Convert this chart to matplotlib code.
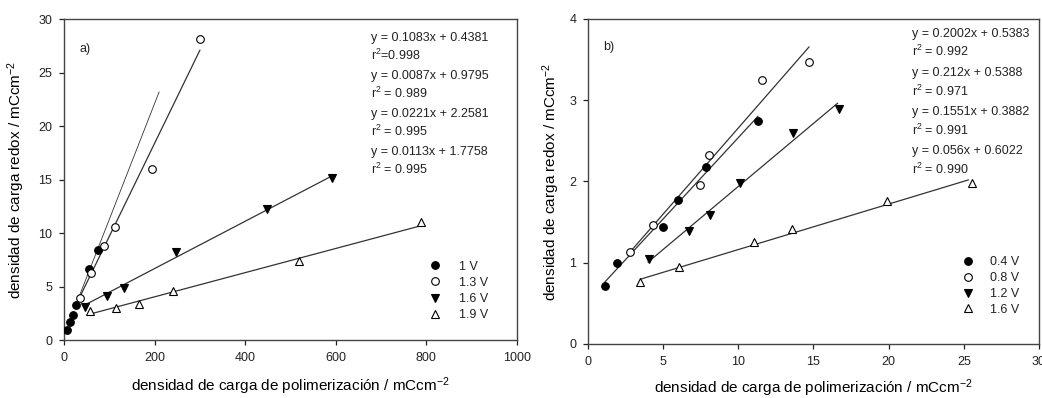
import matplotlib
matplotlib.use("Agg")
import matplotlib.pyplot as plt
import numpy as np

plt.rcParams["font.family"] = ["Liberation Sans", "DejaVu Sans"]
plt.rcParams["mathtext.fontset"] = "custom"
plt.rcParams["mathtext.rm"] = "Liberation Sans"
plt.rcParams["mathtext.it"] = "Liberation Sans:italic"
plt.rcParams["text.color"] = "#222222"

# Panel a: electropolymerised at 1 V .. 1.9 V
a_labels = ["1 V", "1.3 V", "1.6 V", "1.9 V"]
a_x = [
    [6, 13, 19, 26.5, 56, 76],
    [35, 59, 88, 113, 194, 300],
    [47, 96, 133, 247, 448, 592],
    [57.5, 115, 166, 240, 518, 788],
]
a_y = [
    [0.9, 1.65, 2.35, 3.3, 6.6, 8.4],
    [3.9, 6.25, 8.75, 10.6, 16.0, 28.1],
    [3.1, 4.15, 4.85, 8.2, 12.25, 15.1],
    [2.7, 3.0, 3.4, 4.6, 7.4, 11.0],
]
a_slope = [0.1083, 0.087, 0.0221, 0.0113]
a_icpt = [0.4381, 0.9795, 2.2581, 1.7758]
a_range = [(30, 210), (35, 300), (45, 592), (60, 790)]
a_text = [
    "y = 0.1083x + 0.4381", "r$^2$=0.998",
    "y = 0.0087x + 0.9795", "r$^2$ = 0.989",
    "y = 0.0221x + 2.2581", "r$^2$ = 0.995",
    "y = 0.0113x + 1.7758", "r$^2$ = 0.995",
]

# Panel b: 0.4 V .. 1.6 V
b_labels = ["0.4 V", "0.8 V", "1.2 V", "1.6 V"]
b_x = [
    [1.16, 1.96, 4.96, 5.96, 7.85, 11.29],
    [2.78, 4.33, 7.45, 8.07, 11.56, 14.7],
    [4.05, 6.73, 8.11, 10.11, 13.67, 16.67],
    [3.49, 6.07, 11.07, 13.6, 19.9, 25.56],
]
b_y = [
    [0.71, 1.0, 1.44, 1.77, 2.18, 2.75],
    [1.135, 1.46, 1.96, 2.32, 3.25, 3.47],
    [1.04, 1.39, 1.59, 1.98, 2.6, 2.89],
    [0.76, 0.95, 1.26, 1.41, 1.76, 1.98],
]
b_slope = [0.2002, 0.212, 0.1551, 0.056]
b_icpt = [0.5383, 0.5388, 0.3882, 0.6022]
b_range = [(1.1, 11.3), (2.7, 14.7), (4.0, 16.6), (3.5, 25.3)]
b_text = [
    "y = 0.2002x + 0.5383", "r$^2$ = 0.992",
    "y = 0.212x + 0.5388", "r$^2$ = 0.971",
    "y = 0.1551x + 0.3882", "r$^2$ = 0.991",
    "y = 0.056x + 0.6022", "r$^2$ = 0.990",
]

markers = [
    dict(marker="o", mfc="black", mec="black"),
    dict(marker="o", mfc="white", mec="black"),
    dict(marker="v", mfc="black", mec="black"),
    dict(marker="^", mfc="white", mec="black"),
]

fig = plt.figure(figsize=(10.42, 3.98), dpi=100)
ax_a = fig.add_axes([0.0614, 0.1457, 0.4347, 0.8065])
ax_b = fig.add_axes([0.5643, 0.1357, 0.4328, 0.8166])


def draw_panel(ax, xs, ys, slopes, icpts, ranges, labels, line_w):
    for i in range(len(xs)):
        x0, x1 = ranges[i]
        lx = np.array([x0, x1])
        ax.plot(lx, slopes[i] * lx + icpts[i], color="#333333", lw=line_w[i],
                zorder=2)
        ax.plot(xs[i], ys[i], ls="none", ms=5.5, mew=0.8, label=labels[i],
                zorder=3, **markers[i])
    for s in ax.spines.values():
        s.set_color("#444444")
        s.set_linewidth(1.0)
    ax.tick_params(direction="out", length=3.5, width=0.9, pad=5,
                   labelsize=9, colors="#222222")


draw_panel(ax_a, a_x, a_y, a_slope, a_icpt, a_range, a_labels,
           [0.6, 0.9, 0.9, 0.9])
draw_panel(ax_b, b_x, b_y, b_slope, b_icpt, b_range, b_labels,
           [0.9, 0.9, 0.9, 0.9])

ax_a.set_xlim(0, 1000)
ax_a.set_ylim(0, 30)
ax_a.set_xticks(np.arange(0, 1001, 200))
ax_a.set_yticks(np.arange(0, 31, 5))
ax_b.set_xlim(0, 30)
ax_b.set_ylim(0, 4)
ax_b.set_xticks(np.arange(0, 31, 5))
ax_b.set_yticks(np.arange(0, 5, 1))

xlab = "densidad de carga de polimerización / mCcm$^{-2}$"
ylab = "densidad de carga redox / mCcm$^{-2}$"
for ax, xly, ylx in [(ax_a, -0.110, -0.082), (ax_b, -0.104, -0.058)]:
    ax.set_xlabel(xlab, fontsize=11)
    ax.set_ylabel(ylab, fontsize=11)
    ax.xaxis.set_label_coords(0.5, xly)
    ax.yaxis.set_label_coords(ylx, 0.5)

ax_a.text(0.035, 0.908, "a)", transform=ax_a.transAxes, fontsize=9,
          va="center")
ax_b.text(0.034, 0.915, "b)", transform=ax_b.transAxes, fontsize=9,
          va="center")

for k, t in enumerate(a_text):
    ax_a.text(0.677, 0.9325 - 0.0595 * k, t, transform=ax_a.transAxes,
              fontsize=9, va="baseline")
for k, t in enumerate(b_text):
    ax_b.text(0.7177, 0.9452 - 0.0603 * k, t, transform=ax_b.transAxes,
              fontsize=9, va="baseline")

ax_a.legend(loc="upper left", bbox_to_anchor=(0.805, 0.247), frameon=False,
            fontsize=9, handlelength=1.0, handletextpad=1.4,
            labelspacing=0.33, borderpad=0, borderaxespad=0)
ax_b.legend(loc="upper left", bbox_to_anchor=(0.829, 0.27), frameon=False,
            fontsize=9, handlelength=1.0, handletextpad=1.25,
            labelspacing=0.31, borderpad=0, borderaxespad=0)

fig.savefig("out.png", dpi=100)
